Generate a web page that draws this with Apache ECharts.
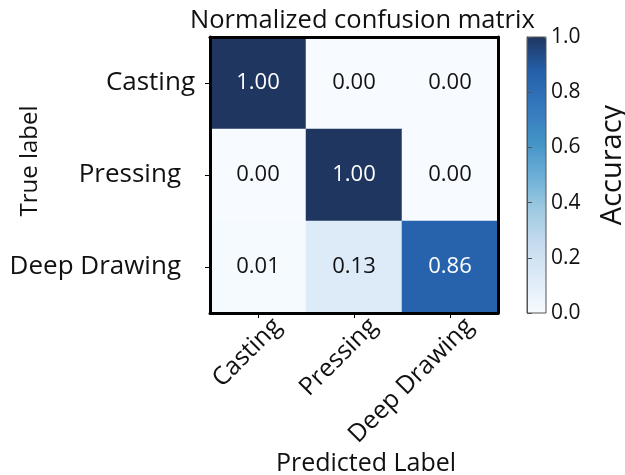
<!DOCTYPE html>
<html>
<head>
<meta charset="utf-8">
<script src="https://cdn.jsdelivr.net/npm/echarts@6/dist/echarts.min.js"></script>
<style>
html,body{margin:0;padding:0;background:#fff;}
#chart{width:625px;height:475px;}
</style>
</head>
<body>
<div id="chart"></div>
<script>
// ---- data ----
const predictedLabels = ['Casting', 'Pressing', 'Deep Drawing'];
const trueLabels = ['Casting', 'Pressing', 'Deep Drawing'];
const rowCasting = [1.00, 0.00, 0.00];
const rowPressing = [0.00, 1.00, 0.00];
const rowDeepDrawing = [0.01, 0.13, 0.86];
const colorbarTicks = [0.0, 0.2, 0.4, 0.6, 0.8, 1.0];

const rows = [rowCasting, rowPressing, rowDeepDrawing];
const FONT = 'Open Sans';
const cells = [];
rows.forEach((row, yi) => {
  row.forEach((v, xi) => {
    cells.push({
      value: [xi, yi, v],
      label: { color: v > 0.5 ? '#ffffff' : '#111111' }
    });
  });
});

const chart = echarts.init(document.getElementById('chart'), null, { renderer: 'canvas' });
const frameLine = { show: true, lineStyle: { color: '#000', width: 3 } };

chart.setOption({
  animation: false,
  backgroundColor: '#fff',
  textStyle: { fontFamily: FONT },
  title: {
    text: 'Normalized confusion matrix',
    left: 190,
    top: 8,
    padding: 0,
    textStyle: { fontFamily: FONT, fontSize: 25.5, fontWeight: 'normal', color: '#111' }
  },
  grid: [
    { left: 210, top: 37, width: 288, height: 276, containLabel: false, outerBoundsMode: 'none' },
    { left: 527, top: 37, width: 19, height: 276, show: true, borderColor: '#555', borderWidth: 1, backgroundColor: 'transparent', z: 10, containLabel: false, outerBoundsMode: 'none' }
  ],
  visualMap: {
    type: 'continuous',
    min: 0,
    max: 1,
    dimension: 2,
    seriesIndex: 0,
    calculable: false,
    left: 527,
    top: 37,
    itemWidth: 19,
    itemHeight: 276,
    padding: 0,
    text: null,
    inRange: {
      color: ['#f7fbff', '#deebf7', '#c6dbef', '#9ecae1', '#6baed6', '#4292c6', '#3478bc', '#2560aa', '#1e3660']
    }
  },
  xAxis: [
    {
      type: 'category', gridIndex: 0, data: predictedLabels, position: 'bottom', z: 10,
      axisLine: frameLine,
      axisTick: { show: true, alignWithLabel: true, length: 5, lineStyle: { color: '#000', width: 1 } },
      axisLabel: { rotate: 45, fontSize: 25, color: '#111', margin: -10, verticalAlign: 'top', padding: [15, 0, 0, 0], fontFamily: FONT },
      splitLine: { show: false },
      name: 'Predicted Label', nameLocation: 'middle', nameGap: 138, nameMoveOverlap: false,
      nameTextStyle: { fontSize: 25, color: '#111', padding: [0, 0, 0, 24], fontFamily: FONT }
    },
    {
      type: 'category', gridIndex: 0, data: predictedLabels, position: 'top', z: 10,
      axisLine: frameLine, axisTick: { show: false }, axisLabel: { show: false }, splitLine: { show: false }
    },
    { type: 'value', gridIndex: 1, min: 0, max: 1, show: false }
  ],
  yAxis: [
    {
      type: 'category', gridIndex: 0, data: trueLabels, inverse: true, position: 'left', z: 10,
      axisLine: frameLine,
      axisTick: { show: true, alignWithLabel: true, length: 5, lineStyle: { color: '#000', width: 1 } },
      axisLabel: {
        fontSize: 26, color: '#111', margin: 15, fontFamily: FONT,
        formatter: v => (v === trueLabels[0] ? v : '{p|' + v + '}'),
        rich: { p: { fontSize: 26, color: '#111', fontFamily: FONT, padding: [0, 14, 0, 0] } }
      },
      splitLine: { show: false },
      name: 'True label', nameLocation: 'middle', nameGap: 168, nameRotate: 90, nameMoveOverlap: false,
      nameTextStyle: { fontSize: 24, color: '#111', padding: [0, 0, 0, 28], fontFamily: FONT }
    },
    {
      type: 'category', gridIndex: 0, data: trueLabels, inverse: true, position: 'right', z: 10,
      axisLine: frameLine, axisTick: { show: false }, axisLabel: { show: false }, splitLine: { show: false }
    },
    {
      type: 'value', gridIndex: 1, min: 0, max: 1, interval: 0.2, position: 'right', z: 10,
      axisLine: { show: true, lineStyle: { color: '#555', width: 1 } },
      axisTick: { show: true, length: 5, lineStyle: { color: '#555', width: 1 } },
      axisLabel: {
        fontSize: 21, color: '#111', margin: 5, fontFamily: FONT,
        customValues: colorbarTicks,
        formatter: v => Number(v).toFixed(1)
      },
      splitLine: { show: false },
      name: 'Accuracy', nameLocation: 'middle', nameGap: 52, nameRotate: 90, nameMoveOverlap: false,
      nameTextStyle: { fontSize: 29, color: '#111', padding: [0, 0, 0, 20], fontFamily: FONT }
    }
  ],
  series: [
    {
      type: 'heatmap',
      xAxisIndex: 0,
      yAxisIndex: 0,
      data: cells,
      label: {
        show: true,
        fontSize: 22,
        fontFamily: FONT,
        formatter: p => p.value[2].toFixed(2)
      },
      itemStyle: { borderWidth: 0 },
      emphasis: { disabled: true }
    }
  ]
});
</script>
</body>
</html>
